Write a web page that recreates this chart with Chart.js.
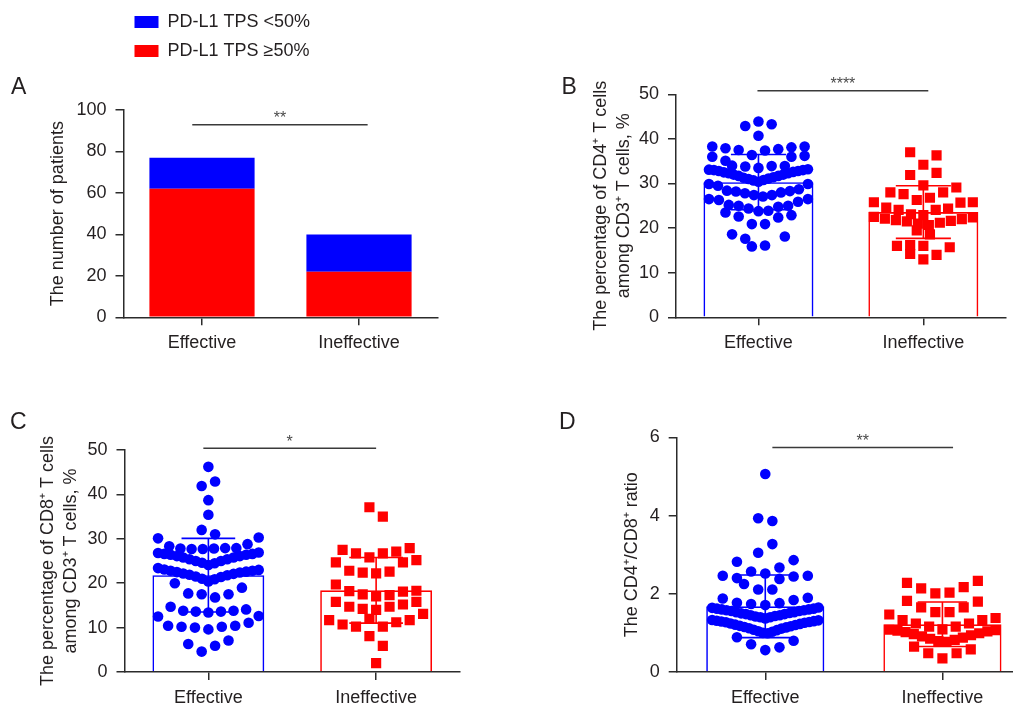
<!DOCTYPE html>
<html lang="en">
<head>
<meta charset="UTF-8">
<title>PD-L1 TPS and T cell subsets by response</title>
<script src="https://cdn.jsdelivr.net/npm/chart.js"></script>
<style>
  html, body { margin: 0; padding: 0; background: #fff; }
  #page { position: relative; width: 1013px; height: 706px; overflow: hidden; background: #fff; }
  #page canvas { position: absolute; }
</style>
</head>
<body>
<div id="page">
  <canvas id="chartA" width="500" height="370" style="left:0;top:0"></canvas>
  <canvas id="chartB" width="513" height="370" style="left:500px;top:0"></canvas>
  <canvas id="chartC" width="500" height="326" style="left:0;top:380px"></canvas>
  <canvas id="chartD" width="540" height="326" style="left:500px;top:380px"></canvas>
</div>
<script>
  const groups = ['Effective', 'Ineffective'];

  // A: patients by PD-L1 TPS
  const tpsHigh = [62, 22];
  const tpsLow = [15, 18];

  // B-D: dot plot values, one array per row of dots (left to right, null = empty slot)
  const cd4Eff = [
    [42.9, 43.9, 43.3],
    [40.7],
    [38.3, 37.9, 37.5, 36.4, 37.4, 37.7, 38.1, 38.3],
    [36.0, 35.1, null, null, null, null, 36.0, 36.2],
    [34.0, 33.8, 33.5, 33.9, 33.9],
    [33.1, 33.0, 32.8, 32.5, 32.3, 32.0, 31.7, 31.3, 31.0, 30.7, 30.4, 30.8, 31.1, 31.4, 31.7, 32.0, 32.3, 32.6, 32.8, 33.0, 33.2],
    [29.9, 29.5, 28.4, 28.2, 27.8, 27.4, 27.1, 27.4, 28.0, 28.3, 28.7, 29.9],
    [26.5, 26.3, 25.2, 25.0, 24.4, 23.8, 23.9, 24.8, 25.0, 25.9, 26.5],
    [23.5, null, null, null, null, 22.9],
    [22.6, null, null, 22.4],
    [20.9, 20.9],
    [18.6, 17.6, null, null, 18.1],
    [15.9, 16.1]
  ];
  const cd4Ineff = [
    [37.0, null, 36.3],
    [34.2],
    [31.9, null, 32.4],
    [29.6],
    [28.0, 27.6, 26.3, 26.8, 28.0, 29.1],
    [25.8, 24.6, 24.1, 23.1, 22.9, 24.1, 24.4, 25.7, 25.8],
    [22.5, 22.1, 21.8, 21.5, 21.0, 20.7, 21.2, 21.6, 22.0, 22.4],
    [19.5, 18.6],
    [16.0, 16.2, 16.0, null, 15.7],
    [14.2, null, 14.0],
    [13.0]
  ];
  const cd4Mean = [30.3, 23.6];
  const cd4Sd = [6.2, 5.9];

  const cd8Eff = [
    [46.2],
    [41.9, 42.9],
    [38.7],
    [35.4],
    [32.0, 31.0],
    [30.1, 28.3, 27.8, 27.7, 27.7, 27.8, 27.9, 27.9, 28.8, 30.3],
    [26.8, 26.6, 26.4, 26.1, 25.8, 25.4, 25.0, 24.6, 24.1, 24.5, 25.0, 25.4, 25.8, 26.1, 26.4, 26.6, 26.9],
    [23.4, 23.1, 22.8, 22.5, 22.2, 21.9, 21.5, 21.0, 20.4, 20.9, 21.4, 21.8, 22.1, 22.4, 22.6, 22.8, 23.0],
    [20.0, null, null, null, null, 19.0],
    [17.7, 17.5, 16.8, 17.5],
    [12.5, 14.7, 13.8, 13.6, 13.4, 13.6, 13.8, 14.1, 12.6],
    [10.4, 10.2, 10.0, 9.6, 10.2, 10.4, 11.1],
    [6.3, null, 5.9, 7.1],
    [4.6, null]
  ];
  const cd8Ineff = [
    [37.1, 35.0],
    [27.5, 26.7, 25.8, 26.7, 27.1, 27.9],
    [24.7, null, null, null, null, 24.7, 25.2],
    [22.8, 22.4, 22.2, 22.6, null],
    [19.7, 18.2, 17.5, 17.0, 17.3, 18.1, 18.3],
    [15.8, 14.7, 14.2, 14.0, 14.7, 15.2, 15.8],
    [11.7, 10.7, 10.2, 12.0, 10.2, 11.2, 11.7, 13.1],
    [8.1, null],
    [null, 5.9],
    [2.0]
  ];
  const cd8Mean = [21.8, 18.4];
  const cd8Sd = [8.3, 7.4];

  const ratioEff = [
    [5.06],
    [3.93, 3.86],
    [3.05, 3.27],
    [2.82, null, null, 2.67, 2.86],
    [2.46, 2.40, 2.57, 2.52, 2.38, 2.44, 2.46],
    [2.25, 2.11, 2.11, null],
    [1.88, 1.77, 1.74, 1.71, 1.76, 1.84, 1.90],
    [1.64, 1.62, 1.60, 1.58, 1.56, 1.53, 1.50, 1.48, 1.45, 1.42, 1.40, 1.37, 1.40, 1.43, 1.45, 1.48, 1.51, 1.53, 1.56, 1.58, 1.60, 1.62, 1.65],
    [1.33, 1.31, 1.29, 1.27, 1.24, 1.21, 1.18, 1.15, 1.12, 1.08, 1.04, 1.00, 0.99, 1.03, 1.07, 1.11, 1.14, 1.17, 1.20, 1.23, 1.26, 1.28, 1.30, 1.32],
    [0.89, null, null, null, 0.80],
    [0.71, null, 0.63],
    [0.56]
  ];
  const ratioIneff = [
    [2.28, 2.14, 2.01, 2.03, 2.17, 2.33],
    [1.82, 1.65, 1.53, 1.53, 1.65, 1.80],
    [1.47, 1.33, 1.24, 1.16, 1.09, 1.16, 1.24, 1.33, 1.38],
    [1.08, 1.06, 1.02, 0.97, 0.91, 0.85, 0.79, 0.77, 0.82, 0.88, 0.94, 0.99, 1.04, 1.07],
    [0.65, null, null, null, 0.58],
    [0.48, null, 0.48],
    [0.35]
  ];
  const ratioMean = [1.68, 1.22];
  const ratioSd = [0.80, 0.57];

  const BLUE = '#0000ff';
  const RED = '#ff0000';
  const TEXT = '#231f20';
  const AXIS = '#2b2b2b';

  Chart.defaults.font.family = "'Liberation Sans', Arial, sans-serif";
  Chart.defaults.font.size = 18;
  Chart.defaults.color = TEXT;

  // spread each row of dots around its group centre (Prism-style scatter dot plot)
  function swarm(rows, center) {
    const pts = [];
    rows.forEach(row => {
      const n = row.length;
      const step = n > 1 ? Math.min(0.08, 0.6 / (n - 1)) : 0;
      row.forEach((v, i) => {
        if (v === null) return;
        pts.push({ x: center + (i - (n - 1) / 2) * step, y: v });
      });
    });
    return pts;
  }

  const errorBars = {
    id: 'errorBars',
    beforeDatasetsDraw(chart, args, opts) {
      if (!opts.mean) return;
      const { ctx, scales: { x, y } } = chart;
      ctx.save();
      ctx.lineWidth = 1.6;
      opts.mean.forEach((m, i) => {
        const cx = x.getPixelForValue(i);
        const half = x.getPixelForValue(i + opts.cap) - cx;
        const top = y.getPixelForValue(m + opts.sd[i]);
        const bot = y.getPixelForValue(m - opts.sd[i]);
        ctx.strokeStyle = opts.colors[i];
        ctx.beginPath();
        ctx.moveTo(cx, top); ctx.lineTo(cx, bot);
        ctx.moveTo(cx - half, top); ctx.lineTo(cx + half, top);
        ctx.moveTo(cx - half, bot); ctx.lineTo(cx + half, bot);
        ctx.stroke();
      });
      ctx.restore();
    }
  };

  const sigBar = {
    id: 'sigBar',
    afterDraw(chart, args, opts) {
      if (!opts.text) return;
      const { ctx, scales: { x, y } } = chart;
      const x1 = x.getPixelForValue(opts.from);
      const x2 = x.getPixelForValue(opts.to);
      const yy = y.getPixelForValue(opts.y);
      ctx.save();
      ctx.strokeStyle = '#3a3a3a';
      ctx.lineWidth = 1.5;
      ctx.beginPath();
      ctx.moveTo(x1, yy); ctx.lineTo(x2, yy);
      ctx.stroke();
      ctx.fillStyle = '#4a4a4a';
      ctx.font = "16px 'Liberation Sans', Arial, sans-serif";
      ctx.textAlign = 'center';
      ctx.textBaseline = 'alphabetic';
      ctx.fillText(opts.text, (x1 + x2) / 2, yy - 1.5);
      ctx.restore();
    }
  };

  const xGrid = { offset: false, drawOnChartArea: false, tickLength: 8, color: AXIS, lineWidth: 1.5 };
  const xTicks = { padding: 7, maxRotation: 0, autoSkip: false, color: TEXT };

  function yAxis(max, step, width, title, titlePad) {
    return {
      min: 0, max: max,
      grid: { drawOnChartArea: false, tickLength: 8, color: AXIS, lineWidth: 1.5 },
      border: { color: AXIS, width: 1.5 },
      ticks: { stepSize: step, padding: 9, color: TEXT },
      title: { display: true, text: title, color: TEXT, font: { size: 18, lineHeight: 23 / 18 }, padding: { top: titlePad, bottom: 0 } },
      afterFit: s => { s.width = width; }
    };
  }

  function panelTitle(letter, top, bottom) {
    return { display: true, text: letter, align: 'start', color: TEXT, font: { size: 23, weight: 'normal', lineHeight: 1 }, padding: { top: top, bottom: bottom } };
  }

  // A
  new Chart(document.getElementById('chartA'), {
    type: 'bar',
    data: {
      labels: groups,
      datasets: [
        { label: 'PD-L1 TPS ≥50%', data: tpsHigh, backgroundColor: RED, borderWidth: 0 },
        { label: 'PD-L1 TPS <50%', data: tpsLow, backgroundColor: BLUE, borderWidth: 0 }
      ]
    },
    options: {
      responsive: false,
      animation: false,
      layout: { padding: { left: 11, top: 2, right: 62.5, bottom: 12.7 } },
      datasets: { bar: { barPercentage: 0.67, categoryPercentage: 1 } },
      scales: {
        x: {
          stacked: true, grid: xGrid, border: { color: AXIS, width: 1.5 }, ticks: xTicks,
          afterFit: s => { s.height = 40; }
        },
        y: Object.assign(yAxis(100, 20, 112.5, 'The number of patients', 35.3), { stacked: true })
      },
      plugins: {
        legend: {
          position: 'top', align: 'start', fullSize: false, reverse: true, weight: 3000,
          labels: { boxWidth: 24, boxHeight: 12, padding: 11, color: TEXT, font: { size: 18 } }
        },
        title: panelTitle('A', 6.2, 10.8),
        tooltip: { enabled: false },
        sigBar: { from: -0.062, to: 1.055, y: 92.9, text: '**' }
      }
    },
    plugins: [sigBar]
  });

  // B-D: mean bar + SD + individual patients on one linear x axis (0 = Effective, 1 = Ineffective)
  function dotPanel(id, o) {
    return new Chart(document.getElementById(id), {
      type: 'bar',
      data: {
        datasets: [
          { type: 'scatter', label: 'Effective', data: swarm(o.eff, 0),
            pointStyle: 'circle', pointRadius: 5.3, backgroundColor: BLUE, borderWidth: 0, order: 0 },
          { type: 'scatter', label: 'Ineffective', data: swarm(o.ineff, 1),
            pointStyle: 'rect', pointRadius: 7.2, backgroundColor: RED, borderWidth: 0, order: 0 },
          { label: 'Mean', data: o.mean.map((m, i) => ({ x: i, y: m })), backgroundColor: 'rgba(255,255,255,0)',
            borderColor: [BLUE, RED], borderWidth: 1.6, barPercentage: 0.667, categoryPercentage: 1, order: 1 }
        ]
      },
      options: {
        responsive: false,
        animation: false,
        layout: { padding: o.padding },
        scales: {
          x: {
            type: 'linear', min: -0.5, max: 1.5, offset: false,
            grid: xGrid, border: { color: AXIS, width: 1.5 },
            ticks: Object.assign({ callback: v => groups[v] }, xTicks),
            afterBuildTicks: s => { s.ticks = groups.map((g, i) => ({ value: i })); },
            afterFit: s => { s.height = o.xHeight; }
          },
          y: yAxis(o.max, o.step, o.yWidth, o.yTitle, o.yTitlePad)
        },
        plugins: {
          legend: { display: false },
          title: panelTitle(o.letter, o.letterPad[0], o.letterPad[1]),
          tooltip: { enabled: false },
          errorBars: { mean: o.mean, sd: o.sd, colors: [BLUE, RED], cap: o.cap },
          sigBar: o.sig
        }
      },
      plugins: [errorBars, sigBar]
    });
  }

  dotPanel('chartB', {
    eff: cd4Eff, ineff: cd4Ineff, mean: cd4Mean, sd: cd4Sd,
    max: 50, step: 10, letter: 'B', letterPad: [76, -4.7],
    padding: { left: 61.5, top: 0, right: 1.5, bottom: 12.7 }, xHeight: 40, yWidth: 114.5,
    yTitle: ['The percentage of CD4⁺ T cells', 'among CD3⁺ T cells, %'], yTitlePad: 28.3,
    cap: 0.167, sig: { from: -0.006, to: 1.03, y: 50.8, text: '****' }
  });

  dotPanel('chartC', {
    eff: cd8Eff, ineff: cd8Ineff, mean: cd8Mean, sd: cd8Sd,
    max: 50, step: 10, letter: 'C', letterPad: [31, 16],
    padding: { left: 10, top: 0, right: 40, bottom: 0 }, xHeight: 34, yWidth: 114.5,
    yTitle: ['The percentage of CD8⁺ T cells', 'among CD3⁺ T cells, %'], yTitlePad: 26.8,
    cap: 0.16, sig: { from: -0.03, to: 1.0, y: 50.4, text: '*' }
  });

  dotPanel('chartD', {
    eff: ratioEff, ineff: ratioIneff, mean: ratioMean, sd: ratioSd,
    max: 6, step: 2, letter: 'D', letterPad: [31.3, 3],
    padding: { left: 59, top: 0, right: 9, bottom: 0 }, xHeight: 34, yWidth: 117.7,
    yTitle: 'The CD4⁺/CD8⁺ ratio', yTitlePad: 61.7,
    cap: 0.14, sig: { from: 0.04, to: 1.06, y: 5.74, text: '**' }
  });
</script>
</body>
</html>
